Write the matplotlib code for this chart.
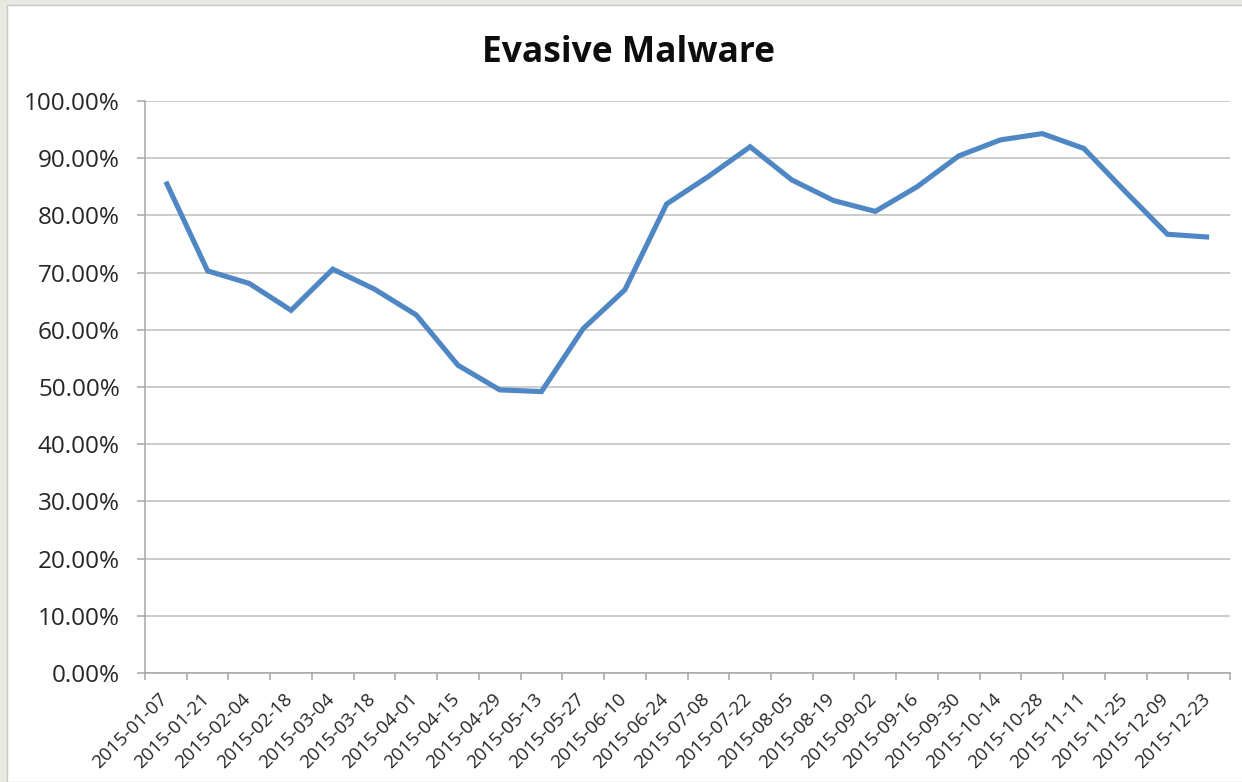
import matplotlib
matplotlib.use("Agg")
import matplotlib.pyplot as plt
import matplotlib.transforms as mtransforms
from matplotlib.patches import Rectangle
from matplotlib.ticker import FixedLocator, FuncFormatter, NullFormatter

dates = ["2015-01-07", "2015-01-21", "2015-02-04", "2015-02-18", "2015-03-04",
         "2015-03-18", "2015-04-01", "2015-04-15", "2015-04-29", "2015-05-13",
         "2015-05-27", "2015-06-10", "2015-06-24", "2015-07-08", "2015-07-22",
         "2015-08-05", "2015-08-19", "2015-09-02", "2015-09-16", "2015-09-30",
         "2015-10-14", "2015-10-28", "2015-11-11", "2015-11-25", "2015-12-09",
         "2015-12-23"]
evasive = [85.9, 70.3, 68.1, 63.4, 70.6, 67.1, 62.6, 53.8, 49.5, 49.2,
           60.2, 67.0, 82.0, 86.8, 92.0, 86.2, 82.6, 80.7, 85.0, 90.4,
           93.2, 94.3, 91.7, 84.1, 76.7, 76.2]
y_ticks = [0, 10, 20, 30, 40, 50, 60, 70, 80, 90, 100]

plt.rcParams['font.family'] = ['Open Sans', 'DejaVu Sans']

W, H = 1242, 782
fig = plt.figure(figsize=(W / 100, H / 100), dpi=100)
fig.patch.set_facecolor('#e9e9e4')
bg = Rectangle((7 / W, 0), 1, 1 - 5 / H, transform=fig.transFigure,
               facecolor='white', edgecolor='#c8c8c4', linewidth=1.0, zorder=-10)
fig.add_artist(bg)

ax = fig.add_axes([145 / W, 1 - 673 / H, (1230 - 145) / W, (673 - 101) / H])
ax.set_facecolor('none')
ax.set_zorder(5)

x = list(range(len(dates)))
ax.plot(x, evasive, color='#4f86c4', linewidth=3.7, solid_joinstyle='miter',
        solid_capstyle='butt', zorder=3)

ax.set_xlim(-0.5, len(dates) - 0.5)
ax.set_ylim(0, 100)

ax.yaxis.set_major_locator(FixedLocator(y_ticks))
ax.yaxis.set_major_formatter(FuncFormatter(lambda v, p: f"{v:.2f}%"))
ax.grid(axis='y', color='#bdbdbd', linewidth=1.1, zorder=1)
ax.set_axisbelow(True)

# category boundaries as tick marks, labels drawn at category centres
ax.xaxis.set_major_locator(FixedLocator([i - 0.5 for i in range(len(dates) + 1)]))
ax.xaxis.set_major_formatter(NullFormatter())
ax.tick_params(axis='x', which='major', length=5, width=1.1, color='#a6a6a6',
               direction='out')
ax.tick_params(axis='y', length=6, width=1.1, color='#a6a6a6', pad=12,
               labelsize=17.5, labelcolor='#262626')

lbl_tr = ax.get_xaxis_transform() + mtransforms.ScaledTranslation(
    5 / 100, -17 / 100, fig.dpi_scale_trans)
for i, d in enumerate(dates):
    ax.text(i, 0, d, transform=lbl_tr, rotation=45, ha='right', va='top',
            rotation_mode='default', fontsize=13.5, color='#262626',
            clip_on=False)

for s in ['top', 'right']:
    ax.spines[s].set_visible(False)
for s in ['left', 'bottom']:
    ax.spines[s].set_color('#a6a6a6')
    ax.spines[s].set_linewidth(1.1)

fig.text(629 / W, 1 - 53 / H, "Evasive Malware", ha='center', va='center',
         fontsize=25.5, fontweight='bold', color='#0d0d0d')

fig.savefig("out.png", dpi=100, facecolor=fig.get_facecolor())
